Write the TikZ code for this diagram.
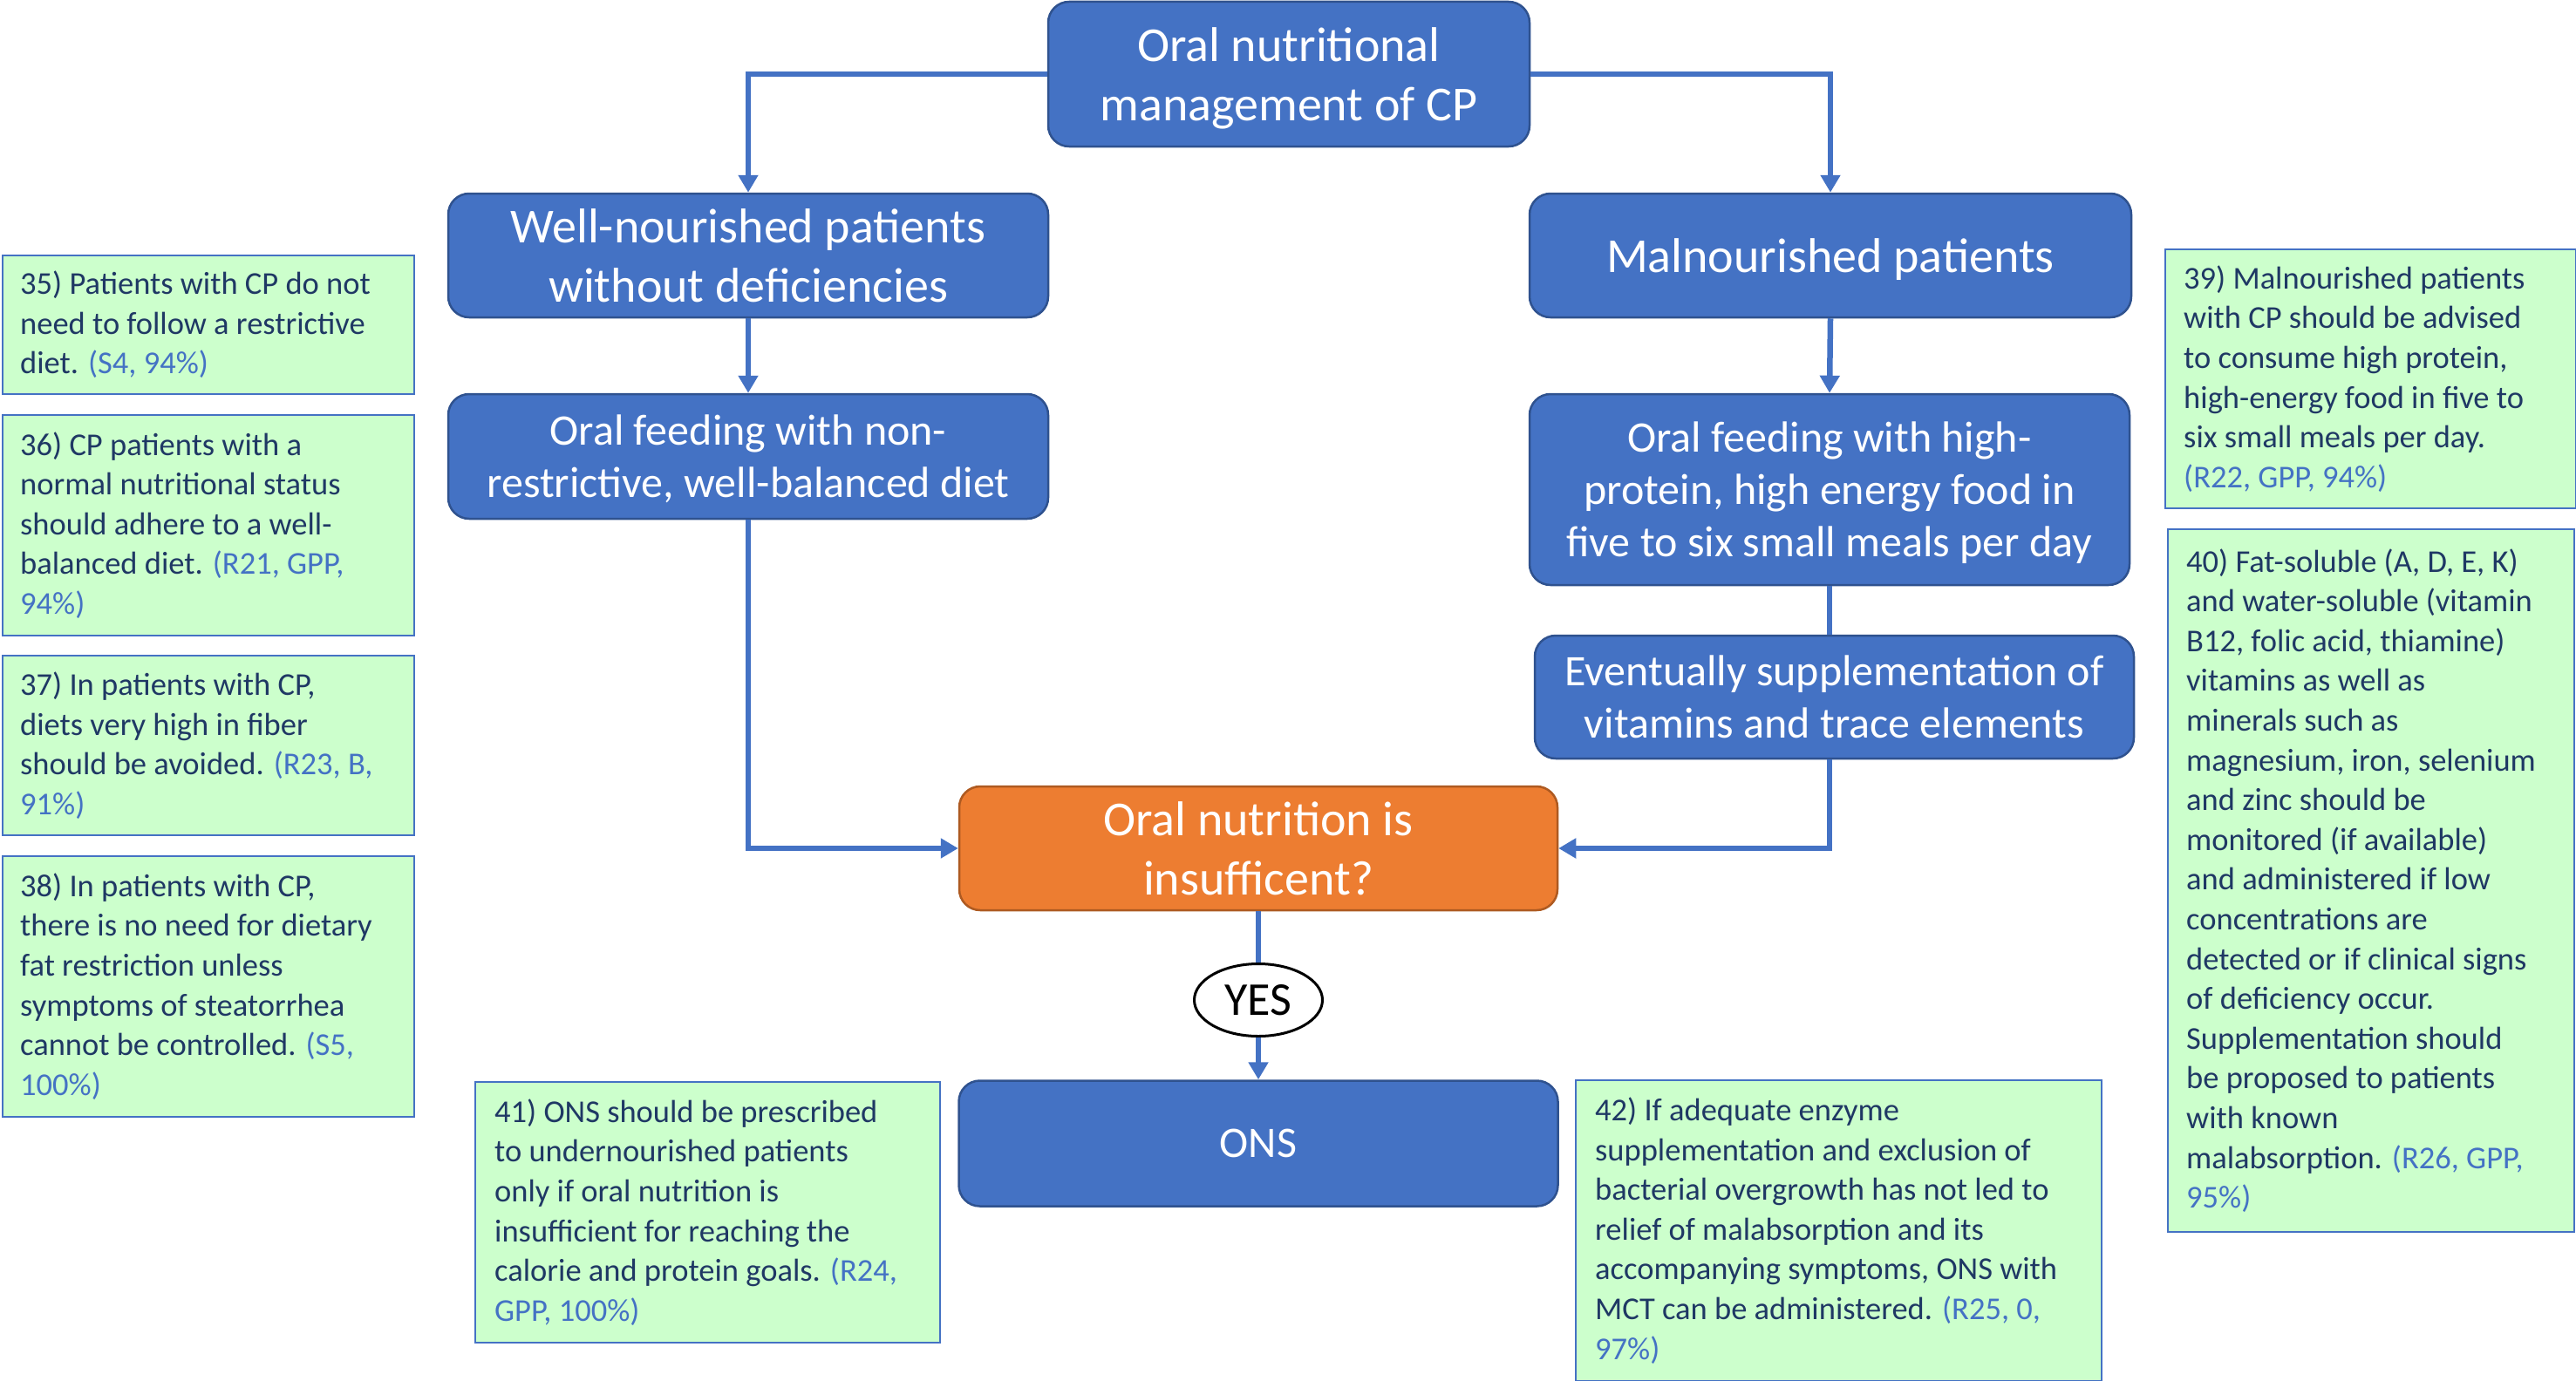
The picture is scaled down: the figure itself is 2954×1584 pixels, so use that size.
\documentclass[tikz,border=0pt]{standalone}
\usepackage{fontspec}
\setmainfont{Carlito}
\usetikzlibrary{arrows.meta,shapes.geometric}
\definecolor{cblue}{HTML}{4472C4}
\definecolor{cblueb}{HTML}{2F528F}
\definecolor{corange}{HTML}{ED7D31}
\definecolor{coranb}{HTML}{AE5A21}
\definecolor{cgreen}{HTML}{CCFFCC}
\definecolor{ctext}{HTML}{1F3864}
\newcommand{\rf}[1]{\textcolor{cblue}{#1}}
\tikzset{
  mainbox/.style={draw=cblueb, fill=cblue, line width=2.5pt, rounded corners=24pt,
    inner sep=0pt, align=center, text=white},
  nodepth/.style={text depth=0pt},
  bigfont/.style={font=\fontsize{56}{67.7}\selectfont},
  midfont/.style={font=\fontsize{50}{60}\selectfont},
  gbox/.style={draw=cblue, fill=cgreen, line width=2pt, anchor=north west, inner sep=0pt},
  gtext/.style={anchor=west, inner sep=0pt, align=left, text=ctext,
    font=\fontsize{36.5}{45.6}\selectfont},
  conn/.style={draw=cblue, line width=6.5pt},
  arr/.style={conn, -{Triangle[width=22pt,length=20pt]}}
}
\begin{document}
\begin{tikzpicture}[x=1pt,y=-1pt]
\useasboundingbox (0,0) rectangle (2954,1584);
% main flow
\node[mainbox,bigfont,nodepth,minimum width=552pt,minimum height=166pt] (top) at (1478,85) {Oral nutritional\\management of CP};
\node[mainbox,bigfont,minimum width=688pt,minimum height=142pt] (well) at (858,293) {Well-nourished patients\\without deficiencies};
\node[mainbox,bigfont,nodepth,minimum width=690pt,minimum height=142pt] (mal) at (2099,293) {Malnourished patients};
\node[mainbox,midfont,nodepth,minimum width=688pt,minimum height=143pt] (feed1) at (858,523.5) {Oral feeding with non-\\restrictive, well-balanced diet};
\node[mainbox,midfont,nodepth,minimum width=688pt,minimum height=219pt] (feed2) at (2098,561.5) {Oral feeding with high-\\protein, high energy food in\\five to six small meals per day};
\node[mainbox,midfont,minimum width=687pt,minimum height=141pt] (supp) at (2103.5,799.5) {Eventually supplementation of\\vitamins and trace elements};
\node[mainbox,bigfont,draw=coranb,fill=corange,minimum width=686pt,minimum height=142pt] (orange) at (1443,973) {Oral nutrition is\\insufficent?};
\node[draw=black,fill=white,line width=3pt,ellipse,inner sep=0pt,minimum width=147pt,minimum height=83pt,font=\fontsize{54}{60}\selectfont] (yes) at (1443,1147) {YES};
\node[mainbox,midfont,minimum width=687pt,minimum height=144pt] (ons) at (1443,1311.5) {ONS};
% connectors
\draw[arr] (top.west) -| (well.north);
\draw[arr] (top.east) -| (mal.north);
\draw[arr] (well.south) -- (feed1.north);
\draw[arr] (mal.south) -- (feed2.north);
\draw[conn] (feed2.south) -- (feed2.south |- supp.north);
\draw[arr] (feed1.south) |- (orange.west);
\draw[arr] (feed2.south |- supp.south) |- (orange.east);
\draw[conn] (orange.south) -- (yes.north);
\draw[arr] (yes.south) -- (ons.north);
% green boxes
\node[gbox,minimum width=472pt,minimum height=159pt] (g35) at (2,292) {};
\node[gtext] (t35) at ([xshift=21pt]g35.west) {35) Patients with CP do not\\need to follow a restrictive\\diet. \rf{(S4, 94\%)}};
\node[gbox,minimum width=472pt,minimum height=253pt] (g36) at (2,475) {};
\node[gtext] (t36) at ([xshift=21pt]g36.west) {36) CP patients with a\\normal nutritional status\\should adhere to a well-\\balanced diet. \rf{(R21, GPP,}\\\rf{94\%)}};
\node[gbox,minimum width=472pt,minimum height=206pt] (g37) at (2,751) {};
\node[gtext] (t37) at ([xshift=21pt]g37.west) {37) In patients with CP,\\diets very high in fiber\\should be avoided. \rf{(R23, B,}\\\rf{91\%)}};
\node[gbox,minimum width=472pt,minimum height=299pt] (g38) at (2,981) {};
\node[gtext] (t38) at ([xshift=21pt]g38.west) {38) In patients with CP,\\there is no need for dietary\\fat restriction unless\\symptoms of steatorrhea\\cannot be controlled. \rf{(S5,}\\\rf{100\%)}};
\node[gbox,minimum width=471pt,minimum height=297pt] (g39) at (2482,285) {};
\node[gtext] (t39) at ([xshift=22pt]g39.west) {39) Malnourished patients\\with CP should be advised\\to consume high protein,\\high-energy food in five to\\six small meals per day.\\\rf{(R22, GPP, 94\%)}};
\node[gbox,minimum width=466pt,minimum height=806pt] (g40) at (2485,606) {};
\node[gtext] (t40) at ([xshift=22pt]g40.west) {40) Fat-soluble (A, D, E, K)\\and water-soluble (vitamin\\B12, folic acid, thiamine)\\vitamins as well as\\minerals such as\\magnesium, iron, selenium\\and zinc should be\\monitored (if available)\\and administered if low\\concentrations are\\detected or if clinical signs\\of deficiency occur.\\Supplementation should\\be proposed to patients\\with known\\malabsorption. \rf{(R26, GPP,}\\\rf{95\%)}};
\node[gbox,minimum width=533pt,minimum height=299pt] (g41) at (544,1240) {};
\node[gtext] (t41) at ([xshift=23pt]g41.west) {41) ONS should be prescribed\\to undernourished patients\\only if oral nutrition is\\insufficient for reaching the\\calorie and protein goals. \rf{(R24,}\\\rf{GPP, 100\%)}};
\node[gbox,minimum width=603pt,minimum height=345pt] (g42) at (1806,1238) {};
\node[gtext] (t42) at ([xshift=23pt]g42.west) {42) If adequate enzyme\\supplementation and exclusion of\\bacterial overgrowth has not led to\\relief of malabsorption and its\\accompanying symptoms, ONS with\\MCT can be administered. \rf{(R25, 0,}\\\rf{97\%)}};
\end{tikzpicture}
\end{document}
